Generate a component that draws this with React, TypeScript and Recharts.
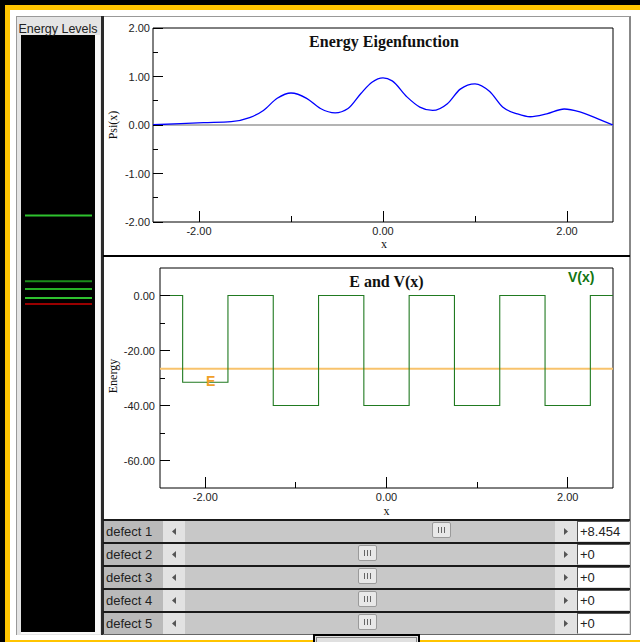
import { LineChart, Line, XAxis, YAxis, ReferenceLine, ReferenceArea } from 'recharts';

const SANS = '"Liberation Sans", Arial, sans-serif';
const SERIF = '"Liberation Serif", "Times New Roman", serif';
const YELLOW = '#ffc400';

// energy eigenfunction psi(x)
const psiX = [-2.5, -2.2, -1.95, -1.65, -1.45, -1.3, -1.15, -1.0, -0.83, -0.68, -0.52, -0.38, -0.24, -0.12, 0.0, 0.1, 0.26, 0.4, 0.54, 0.7, 0.84, 1.0, 1.16, 1.3, 1.46, 1.6, 1.78, 1.97, 2.14, 2.33, 2.5];
const psiY = [0.005, 0.03, 0.05, 0.07, 0.15, 0.3, 0.55, 0.66, 0.55, 0.34, 0.25, 0.34, 0.65, 0.88, 0.97, 0.91, 0.58, 0.37, 0.3, 0.44, 0.74, 0.85, 0.69, 0.37, 0.23, 0.17, 0.23, 0.33, 0.27, 0.13, 0.0];

// potential V(x): five square wells, the first one raised by defect 1
const potX = [-2.5, -2.25, -2.25, -1.75, -1.75, -1.25, -1.25, -0.75, -0.75, -0.25, -0.25, 0.25, 0.25, 0.75, 0.75, 1.25, 1.25, 1.75, 1.75, 2.25, 2.25, 2.5];
const potV = [0, 0, -31.546, -31.546, 0, 0, -40, -40, 0, 0, -40, -40, 0, 0, -40, -40, 0, 0, -40, -40, 0, 0];

const energy = -26.6;

// energy levels panel (last one is the selected level)
const levels = [-14.9, -23.6, -24.6, -25.8, -26.6];
const levelColors = ['#2ec22e', '#1a8c1a', '#26b026', '#2ec22e', '#990000'];

const xTicks = [-2, -1, 0, 1, 2];
const psiTicks = [-2, -1.5, -1, -0.5, 0, 0.5, 1, 1.5, 2];
const energyTicks = [-60, -50, -40, -30, -20, -10, 0];

const defectLabels = ['defect 1', 'defect 2', 'defect 3', 'defect 4', 'defect 5'];
const defectValues = [8.454, 0, 0, 0, 0];
const defectText = ['+8.454', '+0', '+0', '+0', '+0'];

const psiData = psiX.map((x, i) => ({ x, psi: psiY[i] }));
const potData = potX.map((x, i) => ({ x, v: potV[i] }));
const levelData = levels.map((e, i) => ({ i, e }));

const isMajor = (v: number, every: number) => Math.abs(v / every - Math.round(v / every)) < 1e-6;

// ticks drawn inward from the frame, labels outside
const yTick = (gap: number, every: number) => (props: any) => {
  const { x, y, payload } = props;
  const v = payload.value;
  const major = isMajor(v, every);
  return (
    <g>
      <line x1={x} x2={x + (major ? 10 : 5)} y1={y} y2={y} stroke="#000" shapeRendering="crispEdges" />
      {major && (
        <text x={x - gap} y={y + 4} textAnchor="end" fontSize={11} fontFamily={SANS} fill="#222">
          {v.toFixed(2)}
        </text>
      )}
    </g>
  );
};

const xTick = (every: number) => (props: any) => {
  const { x, y, payload } = props;
  const v = payload.value;
  const major = isMajor(v, every);
  return (
    <g>
      <line x1={x} x2={x} y1={y} y2={y - (major ? 11 : 6)} stroke="#000" shapeRendering="crispEdges" />
      {major && (
        <text x={x} y={y + 13} textAnchor="middle" fontSize={11} fontFamily={SANS} fill="#222">
          {v.toFixed(2)}
        </text>
      )}
    </g>
  );
};

function Box({ l, t, w, h, s }: { l: number; t: number; w: number; h: number; s?: any }) {
  return <div style={{ position: 'absolute', left: l, top: t, width: w, height: h, ...s }} />;
}

function Arrow({ x, y, dir }: { x: number; y: number; dir: 'l' | 'r' }) {
  return (
    <svg style={{ position: 'absolute', left: x, top: y }} width={4} height={7}>
      <polygon points={dir === 'l' ? '4,0 4,7 0,3.5' : '0,0 0,7 4,3.5'} fill="#555" />
    </svg>
  );
}

function SliderRow({ i }: { i: number }) {
  const top = 519 + 23 * i;
  const v = defectValues[i];
  const thumbLeft = 183 + ((v + 20) / 40) * 350;
  return (
    <>
      <Box l={103} t={top} w={527} h={2} s={{ background: '#1a1a1a' }} />
      <Box l={104} t={top + 2} w={59} h={21} s={{ background: '#bababa' }} />
      <div style={{ position: 'absolute', left: 106, top: top + 2, height: 21, lineHeight: '21px', fontSize: 13, fontFamily: SANS, color: '#222' }}>
        {defectLabels[i]}
      </div>
      <Box l={163} t={top + 2} w={22} h={21} s={{ background: '#e2e2e2' }} />
      <Arrow x={172} y={top + 9} dir="l" />
      <Box l={185} t={top + 2} w={370} h={21} s={{ background: '#c8c8c8' }} />
      <Box l={555} t={top + 2} w={22} h={21} s={{ background: '#e2e2e2' }} />
      <Arrow x={564} y={top + 9} dir="r" />
      <div style={{ position: 'absolute', left: thumbLeft, top: top + 3, width: 17, height: 14, background: '#e8e8e8', border: '1px solid #9a9a9a', borderRadius: 2, display: 'flex', justifyContent: 'center', alignItems: 'center', gap: 2 }}>
        {[0, 1, 2].map(k => <div key={k} style={{ width: 1, height: 6, background: '#666' }} />)}
      </div>
      <div style={{ position: 'absolute', left: 577, top: top + 2, width: 49, height: 19, background: '#fff', borderTop: '1px solid #555', borderLeft: '1px solid #555', borderRight: '1px solid #ddd', borderBottom: '1px solid #ddd', fontSize: 13, fontFamily: SANS, color: '#222', lineHeight: '20px', paddingLeft: 2, boxSizing: 'content-box' }}>
        {defectText[i]}
      </div>
    </>
  );
}

export default function App() {
  return (
    <div style={{ position: 'relative', width: 640, height: 642, overflow: 'hidden', background: '#fff' }}>
      <style>{'body{margin:0}'}</style>

      {/* applet frame */}
      <Box l={0} t={0} w={640} h={5} s={{ background: '#000' }} />
      <Box l={0} t={0} w={5} h={642} s={{ background: '#000' }} />
      <Box l={5} t={5} w={635} h={5} s={{ background: YELLOW }} />
      <Box l={5} t={5} w={5} h={637} s={{ background: YELLOW }} />
      <Box l={5} t={640} w={635} h={2} s={{ background: YELLOW }} />

      {/* energy levels panel */}
      <Box l={16} t={16} w={87} h={619} s={{ background: '#e4e4e4', borderLeft: '1px solid #999', borderTop: '1px solid #999', boxSizing: 'border-box' }} />
      <Box l={95} t={35} w={5} h={599} s={{ background: '#f8f8f8' }} />
      <Box l={21} t={632} w={79} h={2} s={{ background: '#f8f8f8' }} />
      <div style={{ position: 'absolute', left: 21, top: 35, width: 74, height: 597, background: '#000' }}>
        <LineChart width={74} height={597} data={levelData} margin={{ top: 0, right: 3, bottom: 0, left: 4 }}>
          <XAxis dataKey="i" hide />
          <YAxis type="number" domain={[-70, 9]} allowDataOverflow hide />
          {levels.map((e, i) => (
            <ReferenceLine key={i} y={e} stroke={levelColors[i]} strokeWidth={2} />
          ))}
        </LineChart>
      </div>

      {/* main panel */}
      <Box l={103} t={16} w={528} h={619} s={{ background: '#fff', borderTop: '1px solid #999', borderRight: '2px solid #888', borderBottom: '1px solid #888', boxSizing: 'border-box' }} />
      <Box l={101} t={16} w={3} h={619} s={{ background: '#2a2a2a' }} />

      <div style={{ position: 'absolute', left: 103, top: 17 }}>
        <LineChart width={527} height={238} data={psiData} margin={{ top: 11, right: 17, bottom: 0, left: 0 }}>
          <XAxis dataKey="x" type="number" domain={[-2.5, 2.5]} ticks={xTicks} interval={0} height={33} tickSize={0} tickMargin={0} axisLine={false} tickLine={false} tick={xTick(2)} allowDataOverflow />
          <YAxis type="number" domain={[-2, 2]} ticks={psiTicks} interval={0} width={50} tickSize={0} tickMargin={0} axisLine={false} tickLine={false} tick={yTick(3, 1)} allowDataOverflow />
          <ReferenceArea x1={-2.5} x2={2.5} y1={-2} y2={2} fill="none" fillOpacity={0} stroke="#000" strokeWidth={1} />
          <ReferenceLine y={0} stroke="#b4b4b4" strokeWidth={2} />
          <Line dataKey="psi" type="monotone" stroke="#0000ff" strokeWidth={1.3} dot={false} isAnimationActive={false} />
        </LineChart>
      </div>

      <Box l={103} t={255} w={527} h={2} s={{ background: '#000' }} />

      <div style={{ position: 'absolute', left: 103, top: 257 }}>
        <LineChart width={527} height={262} data={potData} margin={{ top: 11, right: 17, bottom: 0, left: 0 }}>
          <XAxis dataKey="x" type="number" domain={[-2.5, 2.5]} ticks={xTicks} interval={0} height={31} tickSize={0} tickMargin={0} axisLine={false} tickLine={false} tick={xTick(2)} allowDataOverflow />
          <YAxis type="number" domain={[-70, 10]} ticks={energyTicks} interval={0} width={57} tickSize={0} tickMargin={0} axisLine={false} tickLine={false} tick={yTick(5, 20)} allowDataOverflow />
          <ReferenceArea x1={-2.5} x2={2.5} y1={-70} y2={10} fill="none" fillOpacity={0} stroke="#000" strokeWidth={1} />
          <ReferenceLine y={energy} stroke="#f8c36c" strokeWidth={2} />
          <Line dataKey="v" type="linear" stroke="#217a21" strokeWidth={1.1} dot={false} isAnimationActive={false} />
        </LineChart>
      </div>

      {/* sliders */}
      {defectLabels.map((_, i) => <SliderRow key={i} i={i} />)}
      <Box l={103} t={634} w={527} h={1} s={{ background: '#666' }} />

      {/* partially visible button below the sliders */}
      <Box l={313} t={634} w={107} h={12} s={{ background: '#e0e0e0', border: '2px solid #000', boxSizing: 'border-box' }} />
      <Box l={316} t={637} w={101} h={8} s={{ borderTop: '1px solid #888', borderLeft: '1px solid #888', borderRight: '1px solid #888', boxSizing: 'border-box' }} />

      {/* text */}
      <svg style={{ position: 'absolute', left: 0, top: 0, pointerEvents: 'none' }} width={640} height={642}>
        <text x={58} y={33} textAnchor="middle" fontSize={12.5} fontFamily={SANS} fill="#222">Energy Levels</text>
        <text x={384} y={47} textAnchor="middle" fontSize={16} fontWeight="bold" fontFamily={SERIF} fill="#111">Energy Eigenfunction</text>
        <text transform="translate(117,125) rotate(-90)" textAnchor="middle" fontSize={12} fontFamily={SERIF} fill="#111">Psi(x)</text>
        <text x={384} y={248} textAnchor="middle" fontSize={12} fontFamily={SERIF} fill="#111">x</text>
        <text x={386.5} y={287} textAnchor="middle" fontSize={16} fontWeight="bold" fontFamily={SERIF} fill="#111">E and V(x)</text>
        <text x={568} y={282} fontSize={14} fontWeight="bold" fontFamily={SANS} fill="#127512">V(x)</text>
        <text x={206} y={386} fontSize={14} fontWeight="bold" fontFamily={SANS} fill="#f0a028">E</text>
        <text transform="translate(117,376) rotate(-90)" textAnchor="middle" fontSize={12} fontFamily={SERIF} fill="#111">Energy</text>
        <text x={386.5} y={515} textAnchor="middle" fontSize={12} fontFamily={SERIF} fill="#111">x</text>
      </svg>
    </div>
  );
}
